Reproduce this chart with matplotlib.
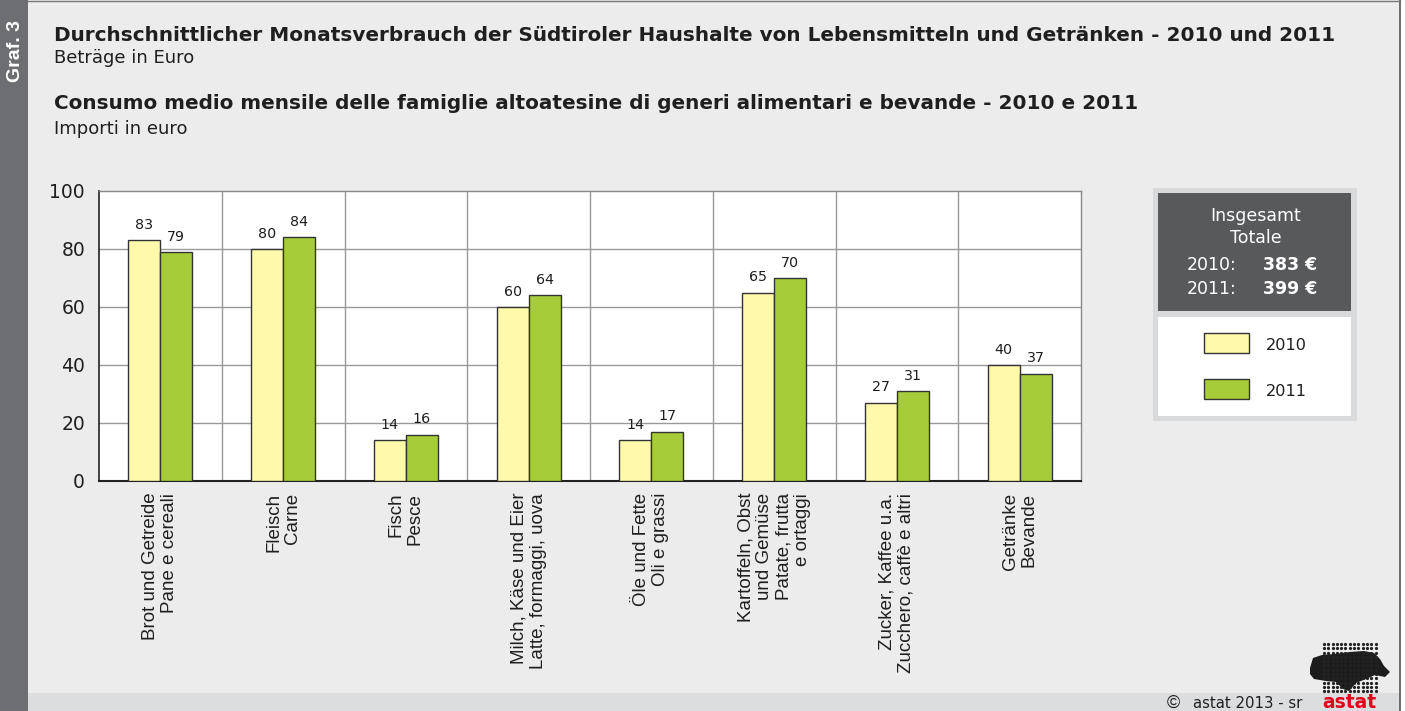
import matplotlib
matplotlib.use("Agg")
import matplotlib.pyplot as plt
from matplotlib.patches import Rectangle, Polygon
import numpy as np

plt.rcParams['font.family'] = ['DejaVu Sans']

categories = [
    "Brot und Getreide\nPane e cereali",
    "Fleisch\nCarne",
    "Fisch\nPesce",
    "Milch, Käse und Eier\nLatte, formaggi, uova",
    "Öle und Fette\nOli e grassi",
    "Kartoffeln, Obst\nund Gemüse\nPatate, frutta\ne ortaggi",
    "Zucker, Kaffee u.a.\nZucchero, caffè e altri",
    "Getränke\nBevande",
]
series_labels = ["2010", "2011"]
values_2010 = [83, 80, 14, 60, 14, 65, 27, 40]
values_2011 = [79, 84, 16, 64, 17, 70, 31, 37]
yticks = [0, 20, 40, 60, 80, 100]
total_2010 = 383
total_2011 = 399

C2010 = '#fff9ab'
C2011 = '#a6cd39'
TXT = '#1f1f1f'

W, H = 1405, 711
fig = plt.figure(figsize=(W / 100, H / 100), dpi=100)
fig.patch.set_facecolor('#ebeceb')


def fx(px):
    return px / W


def fy(py):
    return 1 - py / H


def rect_px(x0, y0, x1, y1, **kw):
    fig.add_artist(Rectangle((fx(x0), fy(y1)), fx(x1) - fx(x0), (y1 - y0) / H,
                             transform=fig.transFigure, **kw))


def fit_width(t, target_px):
    r = fig.canvas.get_renderer()
    w = t.get_window_extent(renderer=r).width
    t.set_fontsize(t.get_fontsize() * target_px / w)


# left gray band
rect_px(0, 0, 28, H, facecolor='#6d6e71', edgecolor='none')
fig.text(fx(16), fy(51), "Graf. 3", rotation=90, color='white', fontsize=14,
         fontweight='bold', ha='center', va='center', family='Liberation Sans')
# bottom band
rect_px(28, 693, 1400, H, facecolor='#dcdddf', edgecolor='none')
# right border
rect_px(1400, 0, W, H, facecolor='#ffffff', edgecolor='none')
fig.add_artist(plt.Line2D([fx(1399.5), fx(1399.5)], [0, 1], transform=fig.transFigure,
                          color='#555555', lw=1.2))
fig.add_artist(plt.Line2D([fx(28), fx(1400)], [fy(1), fy(1)], transform=fig.transFigure,
                          color='#777777', lw=1.0))

# titles
t1 = fig.text(fx(54), fy(41), "Durchschnittlicher Monatsverbrauch der Südtiroler Haushalte von Lebensmitteln und Getränken - 2010 und 2011",
              fontsize=14, fontweight='bold', va='baseline', ha='left', color=TXT)
fit_width(t1, 1281)
tsize = t1.get_fontsize()
fig.text(fx(54), fy(63), "Beträge in Euro", fontsize=tsize * 0.9, va='baseline', ha='left', color=TXT)
fig.text(fx(54), fy(109), "Consumo medio mensile delle famiglie altoatesine di generi alimentari e bevande - 2010 e 2011",
         fontsize=tsize, fontweight='bold', va='baseline', ha='left', color=TXT)
fig.text(fx(54), fy(134), "Importi in euro", fontsize=tsize * 0.9, va='baseline', ha='left', color=TXT)

# axes
ax = fig.add_axes([fx(99), fy(481), fx(1081) - fx(99), (481 - 191) / H])
ax.set_facecolor('white')
n = len(categories)
x = np.arange(n)
bw = 0.26
b1 = ax.bar(x - bw / 2, values_2010, bw, color=C2010, edgecolor='#333333', lw=1.0, zorder=3)
b2 = ax.bar(x + bw / 2, values_2011, bw, color=C2011, edgecolor='#333333', lw=1.0, zorder=3)
for bars, vals in ((b1, values_2010), (b2, values_2011)):
    for rect, v in zip(bars, vals):
        ax.text(rect.get_x() + rect.get_width() / 2, v + 3.9, str(v), ha='center',
                va='baseline', fontsize=10.3, color=TXT)

ax.set_xlim(-0.5, n - 0.5)
ax.set_ylim(0, 100)
ax.set_yticks(yticks)
ax.set_yticklabels([str(t) for t in yticks], fontsize=13.5, color=TXT)
ax.tick_params(axis='y', length=0, pad=10)
for t in yticks[1:-1]:
    ax.axhline(t, color='#999999', lw=1.0, zorder=1)
for b in np.arange(0.5, n - 0.5, 1):
    ax.axvline(b, color='#999999', lw=1.0, zorder=1)
ax.set_xticks(x)
ax.set_xticklabels(categories, rotation=90, fontsize=13.5, color=TXT, family='Liberation Sans',
                   ha='center', va='top', multialignment='right', linespacing=1.15)
ax.tick_params(axis='x', length=0, pad=8.5)
for s in ['top', 'right']:
    ax.spines[s].set_color('#888888')
    ax.spines[s].set_linewidth(1.0)
ax.spines['left'].set_color('#222222')
ax.spines['bottom'].set_color('#222222')
ax.spines['left'].set_linewidth(1.2)
ax.spines['bottom'].set_linewidth(1.5)

# legend / totals box
rect_px(1153, 188, 1357, 421, facecolor='#d9dadb', edgecolor='none')
rect_px(1158, 193, 1351, 311, facecolor='#58595b', edgecolor='none')
rect_px(1158, 317, 1351, 416, facecolor='white', edgecolor='none')
cx = fx(1256)
fig.text(cx, fy(216), "Insgesamt", color='white', fontsize=12.5, ha='center', va='center')
fig.text(cx, fy(238), "Totale", color='white', fontsize=12.5, ha='center', va='center')
fig.text(fx(1187), fy(265), f"{series_labels[0]}:", color='white', fontsize=12.5, ha='left', va='center')
fig.text(fx(1263), fy(265), f"{total_2010} €", color='white', fontsize=12.5,
         fontweight='bold', ha='left', va='center')
fig.text(fx(1187), fy(289), f"{series_labels[1]}:", color='white', fontsize=12.5, ha='left', va='center')
fig.text(fx(1263), fy(289), f"{total_2011} €", color='white', fontsize=12.5,
         fontweight='bold', ha='left', va='center')

rect_px(1204, 333, 1249, 353, facecolor=C2010, edgecolor='#333333', lw=1.0)
fig.text(fx(1266), fy(345), series_labels[0], fontsize=11.6, ha='left', va='center', color=TXT)
rect_px(1204, 379, 1249, 399, facecolor=C2011, edgecolor='#333333', lw=1.0)
fig.text(fx(1266), fy(391), series_labels[1], fontsize=11.6, ha='left', va='center', color=TXT)

# footer
fig.text(fx(1167), fy(703), "©", fontsize=13, ha='left', va='center', color=TXT,
         family='Liberation Sans')
fig.text(fx(1193), fy(703), "astat 2013 - sr", fontsize=10.7, ha='left', va='center', color=TXT)
fig.text(fx(1349), fy(702), "astat", fontsize=13.5, fontweight='bold', ha='center', va='center',
         color='#e2001a')

# logo: dot matrix with solid silhouette
blob = [(1310, 668), (1313, 658), (1322, 655), (1335, 654), (1350, 652), (1364, 651),
        (1374, 653), (1380, 659), (1384, 666), (1390, 672), (1385, 677), (1375, 675),
        (1366, 679), (1356, 683), (1349, 691), (1343, 689), (1336, 682), (1326, 681),
        (1314, 679), (1310, 674)]
fig.add_artist(Polygon([(fx(a), fy(b)) for a, b in blob], closed=True, transform=fig.transFigure,
                       facecolor='#1c1c1c', edgecolor='none'))
gx, gy = np.meshgrid(np.arange(1324, 1376, 4.3), np.arange(644, 694, 4.3))
gx = gx.ravel(); gy = gy.ravel()
fig.add_artist(plt.Line2D([fx(v) for v in gx], [fy(v) for v in gy], transform=fig.transFigure,
                          ls='none', marker='o', ms=2.3, mew=0, color='#222222'))

fig.savefig("out.png", dpi=100, facecolor=fig.get_facecolor())
